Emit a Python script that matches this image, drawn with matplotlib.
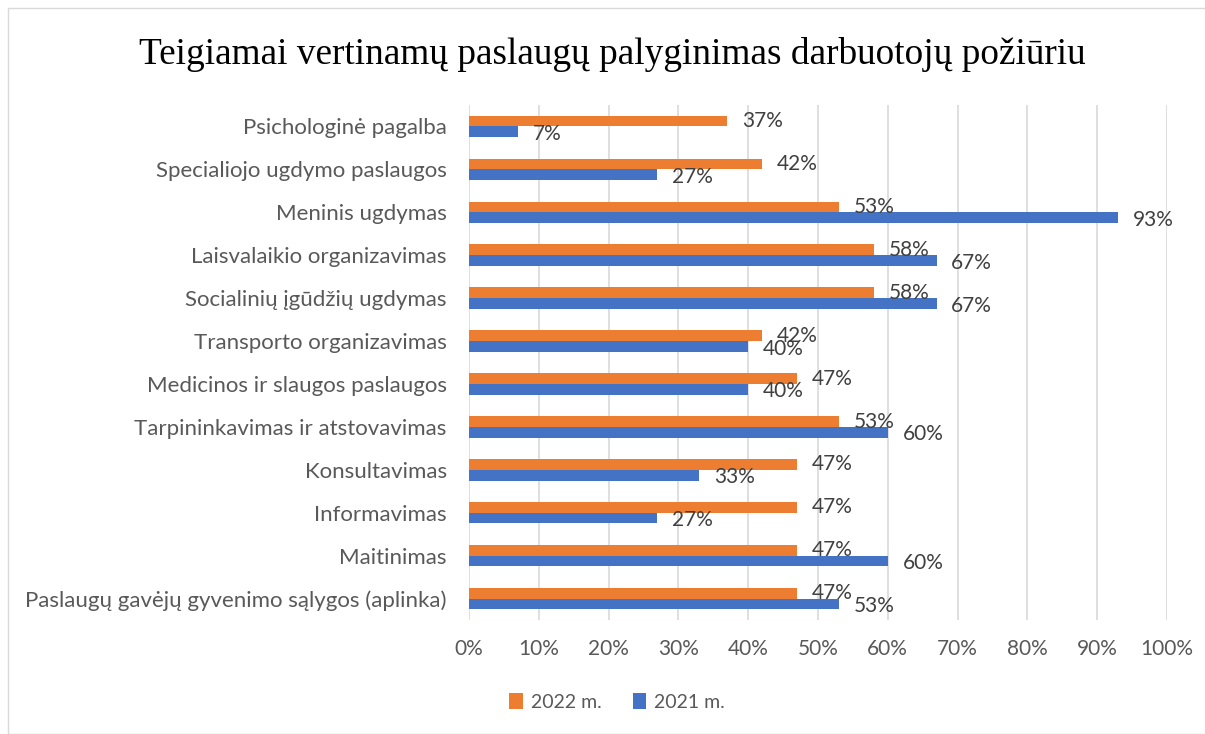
import numpy as np
import matplotlib
matplotlib.use("Agg")
import matplotlib.pyplot as plt
from matplotlib.patches import Rectangle

# Data (top to bottom)
categories = [
    "Psichologinė pagalba",
    "Specialiojo ugdymo paslaugos",
    "Meninis ugdymas",
    "Laisvalaikio organizavimas",
    "Socialinių įgūdžių ugdymas",
    "Transporto organizavimas",
    "Medicinos ir slaugos paslaugos",
    "Tarpininkavimas ir atstovavimas",
    "Konsultavimas",
    "Informavimas",
    "Maitinimas",
    "Paslaugų gavėjų gyvenimo sąlygos (aplinka)",
]
values_2022 = [37, 42, 53, 58, 58, 42, 47, 53, 47, 47, 47, 47]
values_2021 = [7, 27, 93, 67, 67, 40, 40, 60, 33, 27, 60, 53]
series_names = ["2022 m.", "2021 m."]
x_ticks = [0, 10, 20, 30, 40, 50, 60, 70, 80, 90, 100]

orange = "#ED7D31"
blue = "#4472C4"
label_font = ["Lato", "DejaVu Sans"]

W, H = 1205, 734
fig = plt.figure(figsize=(W / 100, H / 100), dpi=100)

# light chart border like the office chart area
fig.patches.append(Rectangle((8 / W, 0), 1.2, 1 - 8 / H, transform=fig.transFigure,
                             fill=False, edgecolor="#d9d9d9", linewidth=1))

ax_left, ax_right = 469 / W, 1167 / W
ax_top, ax_bottom = 1 - 105 / H, 1 - 620 / H
ax = fig.add_axes([ax_left, ax_bottom, ax_right - ax_left, ax_top - ax_bottom])

n = len(categories)
y = np.arange(n)
bh = 0.25
ax.barh(y - bh / 2, values_2022, height=bh, color=orange, label=series_names[0], zorder=3)
ax.barh(y + bh / 2, values_2021, height=bh, color=blue, label=series_names[1], zorder=3)

# data labels
for i in range(n):
    ax.annotate(f"{values_2022[i]}%", (values_2022[i], y[i] - bh / 2),
                xytext=(10.5, 0), textcoords="offset points", ha="left", va="center",
                fontsize=15, color="#404040", family=label_font, zorder=4)
    ax.annotate(f"{values_2021[i]}%", (values_2021[i], y[i] + bh / 2 + 0.05),
                xytext=(10.5, 0), textcoords="offset points", ha="left", va="center",
                fontsize=15, color="#404040", family=label_font, zorder=4)

ax.set_ylim(n - 0.5, -0.5)
ax.set_xlim(0, 100)
ax.set_yticks(y)
ax.set_yticklabels(categories, family=label_font, fontsize=16, color="#595959")
ax.set_xticks(x_ticks)
ax.set_xticklabels([f"{t}%" for t in x_ticks], family=label_font, fontsize=15, color="#595959")
ax.tick_params(axis="both", length=0)
ax.tick_params(axis="y", pad=16)
ax.tick_params(axis="x", pad=14)

ax.grid(axis="x", color="#d9d9d9", linewidth=1.2, zorder=0)
for s in ax.spines.values():
    s.set_visible(False)

fig.text(612 / W, 1 - 55 / H, "Teigiamai vertinamų paslaugų palyginimas darbuotojų požiūriu",
         ha="center", va="center", fontsize=26.8, family="Liberation Serif", color="black")

leg = fig.legend(loc="center", bbox_to_anchor=(617 / W, 1 - 702 / H), ncol=2, frameon=False,
                 prop={"family": label_font, "size": 14}, handlelength=0.7, handleheight=0.9,
                 handletextpad=0.4, columnspacing=1.6)
for t in leg.get_texts():
    t.set_color("#595959")

fig.savefig("out.png", dpi=100)
